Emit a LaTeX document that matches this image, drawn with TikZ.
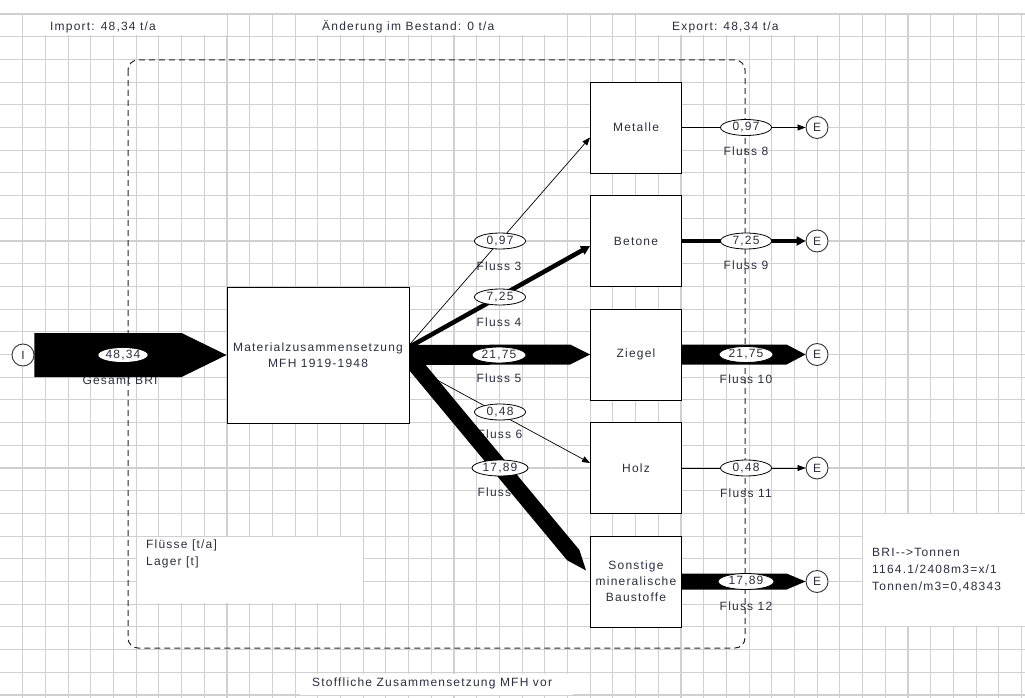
\documentclass[tikz,border=0pt]{standalone}
\usepackage{fontspec}
\setmainfont{Liberation Sans}[LetterSpace=10]
\usetikzlibrary{arrows.meta,shapes.geometric,calc}
\definecolor{gridc}{RGB}{208,208,208}
\definecolor{txt}{RGB}{45,45,65}
\pgfdeclarelayer{back}
\pgfdeclarelayer{flows}
\pgfsetlayers{back,flows,main}
\begin{document}
\begin{tikzpicture}[x=1pt,y=-1pt,
  every node/.style={font=\fontsize{12}{15.5}\selectfont, text=txt, inner sep=0pt},
  gridline/.style={draw=gridc, line width=1.1pt},
  boundary/.style={draw=black!85, line width=1pt, dash pattern=on 6pt off 4pt, rounded corners=10pt},
  procbox/.style={draw=black, fill=white, line width=0.9pt, minimum width=91pt, minimum height=91pt, align=center},
  valell/.style={ellipse, draw=black, fill=white, line width=0.8pt, minimum width=51pt, minimum height=16pt},
  endcirc/.style={circle, draw=black!80, fill=white, line width=0.9pt, minimum size=22pt},
  flab/.style={},
  thinflow/.style={draw=black, line width=0.7pt, -{Triangle[length=8pt,width=6pt]}},
  medflow/.style={draw=black, line width=4.5pt, -{Triangle[length=9pt,width=9pt]}},
  sankey/.style={fill=black}
]
\useasboundingbox (0,0) rectangle (1025,698);

\begin{pgfonlayer}{back}
\fill[white] (0,0) rectangle (1025,698);
\foreach \i in {1,...,45} \draw[gridline] (\i*22.7,14) -- (\i*22.7,698);
\foreach \j in {0,...,30} \draw[gridline] (0,14+\j*22.7) -- (1025,14+\j*22.7);
% white label patches
\fill[white] (45,15.5) rectangle (227,35.5);
\fill[white] (310,15.5) rectangle (555,35.5);
\fill[white] (658,15.5) rectangle (818,35.5);
\fill[white] (137,537) rectangle (363,603);
\fill[white] (863,514) rectangle (1025,626);
\fill[white] (300,674) rectangle (573,695);
% system boundary
\draw[boundary] (128,60) rectangle (745,648);
% flow names
\node[flab] (n1) at (120,380) {Gesamt BRI};
\node[flab] (n3) at (499,266) {Fluss 3};
\node[flab] (n4) at (499,322) {Fluss 4};
\node[flab] (n5) at (499,378) {Fluss 5};
\node[flab] (n6) at (500,434) {Fluss 6};
\node[flab] (n7) at (500,492) {Fluss 7};
\node[flab] (n8) at (746,151) {Fluss 8};
\node[flab] (n9) at (746,265) {Fluss 9};
\node[flab] (n10) at (746,379) {Fluss 10};
\node[flab] (n11) at (746,493) {Fluss 11};
\node[flab] (n12) at (746,606) {Fluss 12};
\end{pgfonlayer}

% texts
\node[anchor=west] (timp) at (50,27) {Import: 48,34 t/a};
\node[anchor=west] (tbest) at (322,27) {Änderung im Bestand: 0 t/a};
\node[anchor=west] (texp) at (672,27) {Export: 48,34 t/a};
\node[anchor=west] (tstoff) at (312,683) {Stoffliche Zusammensetzung MFH vor};
\node[anchor=west, align=left, font=\fontsize{12}{17}\selectfont] (tleg) at (146,553.5) {Flüsse [t/a]\\Lager [t]};
\node[anchor=west, align=left, font=\fontsize{12}{17}\selectfont] (tbri) at (872,570) {BRI{-}{-}>Tonnen\\1164.1/2408m3=x/1\\Tonnen/m3=0,48343};

% processes
\node[endcirc] (I) at (23,355) {I};
\node[procbox, minimum width=182pt, minimum height=136pt] (main) at (318,355) {Materialzusammensetzung\\MFH 1919-1948};
\node[procbox] (met) at (636,127.5) {Metalle};
\node[procbox] (bet) at (636,241) {Betone};
\node[procbox] (zie) at (636,354.5) {Ziegel};
\node[procbox] (hol) at (636,468) {Holz};
\node[procbox, font=\fontsize{12}{16}\selectfont] (son) at (636,581.5) {Sonstige\\mineralische\\Baustoffe};
\node[endcirc] (E1) at (817,127.5) {E};
\node[endcirc] (E2) at (817,241) {E};
\node[endcirc] (E3) at (817,354.5) {E};
\node[endcirc] (E4) at (817,468) {E};
\node[endcirc] (E5) at (817,581.5) {E};

% flows
\begin{pgfonlayer}{flows}
\fill[sankey] ($(I.east)+(0,-22)$) -- ($(main.west)+(-45,-22)$) -- (main.west) -- ($(main.west)+(-45,22)$) -- ($(I.east)+(0,22)$) -- cycle;
\draw[thinflow] ($(main.east)+(-2,-8)$) -- ($(met.west)+(0,10)$);
\draw[medflow] ($(main.east)+(-2,-7)$) -- ($(bet.west)+(0,5)$);
\fill[sankey] ($(main.east)+(-2,-10)$) -- ($(zie.west)+(-20,-10)$) -- (zie.west) -- ($(zie.west)+(-20,10)$) -- ($(main.east)+(-2,10)$) -- cycle;
\draw[thinflow] ($(main.east)+(-2,9)$) -- ($(hol.west)+(0,-5)$);
\coordinate (f7s) at ($(main.east)+(0,3)$);
\coordinate (f7t) at ($(son.west)+(-4,-11)$);
\coordinate (f7a) at ($(f7s)!-20pt!(f7t)$);
\coordinate (f7h) at ($(f7t)!20pt!(f7s)$);
\fill[sankey] ($(f7a)!8pt!90:(f7t)$) -- ($(f7h)!8pt!90:(f7t)$) -- (f7t) -- ($(f7h)!8pt!-90:(f7t)$) -- ($(f7a)!8pt!-90:(f7t)$) -- cycle;
\draw[thinflow] (met.east) -- (E1.west);
\draw[medflow] (bet.east) -- (E2.west);
\fill[sankey] ($(zie.east)+(0,-10)$) -- ($(E3.west)+(-19,-10)$) -- (E3.west) -- ($(E3.west)+(-19,10)$) -- ($(zie.east)+(0,10)$) -- cycle;
\draw[thinflow] (hol.east) -- (E4.west);
\fill[sankey] ($(son.east)+(0,-8)$) -- ($(E5.west)+(-19,-8)$) -- (E5.west) -- ($(E5.west)+(-19,8)$) -- ($(son.east)+(0,8)$) -- cycle;
\end{pgfonlayer}

% values
\node[valell, draw=none, minimum width=47pt, minimum height=13pt] (v1) at (123,355) {48,34};
\node[valell] (v3) at (500,241) {0,97};
\node[valell] (v4) at (500,297) {7,25};
\node[valell, minimum width=54pt] (v5) at (499,355) {21,75};
\node[valell] (v6) at (500,412) {0,48};
\node[valell, minimum width=56pt] (v7) at (500,468) {17,89};
\node[valell] (v8) at (746,127.5) {0,97};
\node[valell] (v9) at (746,241) {7,25};
\node[valell, minimum width=54pt] (v10) at (746,354.5) {21,75};
\node[valell] (v11) at (746,468) {0,48};
\node[valell, minimum width=56pt] (v12) at (746,581.5) {17,89};
\end{tikzpicture}
\end{document}
